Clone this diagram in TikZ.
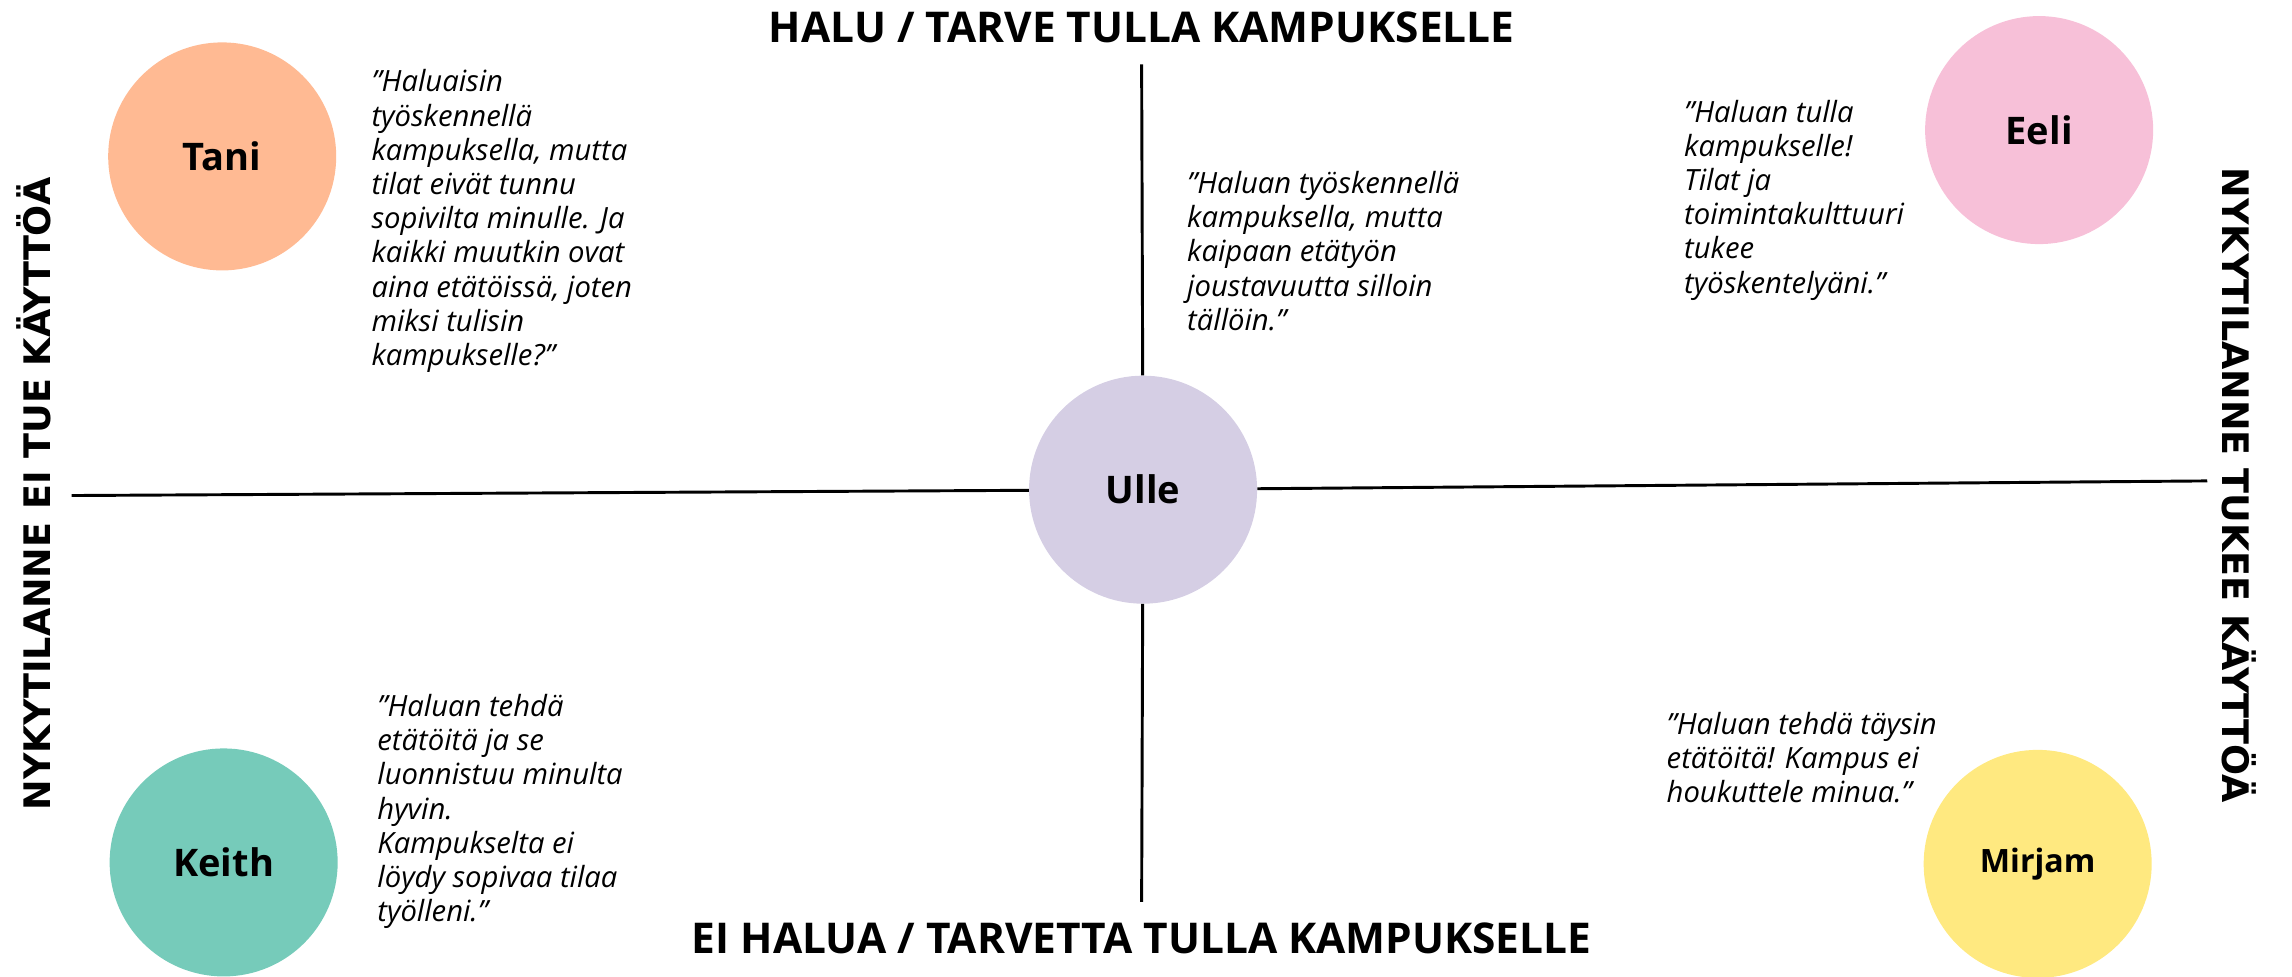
\documentclass[tikz,border=0pt]{standalone}
\usepackage{fontspec}
\setmainfont{Open Sans}
\newfontfamily\sidefont{DejaVu Sans}
\usetikzlibrary{positioning}

\definecolor{tanicol}{HTML}{FFBA93}
\definecolor{eelicol}{HTML}{F7C0D8}
\definecolor{ullecol}{HTML}{D5CEE4}
\definecolor{keithcol}{HTML}{76CBBA}
\definecolor{mirjamcol}{HTML}{FFE980}

\begin{document}
\begin{tikzpicture}[
		x=1pt, y=-1pt,
		persona/.style={circle, minimum size=156pt, inner sep=0pt, font=\fontsize{26}{28}\selectfont\bfseries},
		quotetext/.style={anchor=base west, align=left, inner sep=0pt, font=\fontsize{20}{23.4}\selectfont\itshape},
		axis/.style={black, line width=2pt},
		title/.style={anchor=base, inner sep=0pt, font=\fontsize{29}{31}\selectfont\bfseries},
		side/.style={inner sep=0pt, font=\sidefont\fontsize{25}{27}\selectfont\bfseries}
		]
		
		% Canvas
		\useasboundingbox (0,0) rectangle (1568,668);
		
		% Axis titles
		\node[title] (want) at (781,29) {HALU / TARVE TULLA KAMPUKSELLE};
		\node[title] (nowant) at (781,652) {EI HALUA / TARVETTA TULLA KAMPUKSELLE};
		\node[side, rotate=90] (nosupport) at (23,338) {NYKYTILANNE EI TUE KÄYTTÖÄ};
		\node[side, rotate=-90] (support) at (1532,332) {NYKYTILANNE TUKEE KÄYTTÖÄ};
		
		% Personas
		\node[persona, fill=ullecol] (ulle) at (782,335) {Ulle};
		\node[persona, fill=tanicol] (tani) at (152,107) {Tani};
		\node[persona, fill=eelicol] (eeli) at (1395,89) {Eeli};
		\node[persona, fill=keithcol] (keith) at (153,590) {Keith};
		\node[persona, fill=mirjamcol, font=\fontsize{22}{24}\selectfont\bfseries] (mirjam) at (1394,591) {Mirjam};
		
		% Axes through the centre
		\coordinate (vtop) at (781,44);
		\coordinate (vbottom) at (781,617);
		\coordinate (hleft) at (49,339);
		\coordinate (hright) at (1510,329);
		\draw[axis] (vtop) -- (ulle);
		\draw[axis] (ulle) -- (vbottom);
		\draw[axis] (hleft) -- (ulle);
		\draw[axis] (ulle) -- (hright);
		
		% Quotes (placed at the baseline of their last line)
		\node[quotetext] (taniq) at (254,250) {”Haluaisin\\työskennellä\\kampuksella, mutta\\tilat eivät tunnu\\sopivilta minulle. Ja\\kaikki muutkin ovat\\aina etätöissä, joten\\miksi tulisin\\kampukselle?”};
		\node[quotetext] (ulleq) at (812,226) {”Haluan työskennellä\\kampuksella, mutta\\kaipaan etätyön\\joustavuutta silloin\\tällöin.”};
		\node[quotetext] (eeliq) at (1152,200.5) {”Haluan tulla\\kampukselle!\\Tilat ja\\toimintakulttuuri\\tukee\\työskentelyäni.”};
		\node[quotetext] (keithq) at (258,630.5) {”Haluan tehdä\\etätöitä ja se\\luonnistuu minulta\\hyvin.\\Kampukselta ei\\löydy sopivaa tilaa\\työlleni.”};
		\node[quotetext] (mirjamq) at (1140,549) {”Haluan tehdä täysin\\etätöitä! Kampus ei\\houkuttele minua.”};
		
	\end{tikzpicture}
\end{document}
